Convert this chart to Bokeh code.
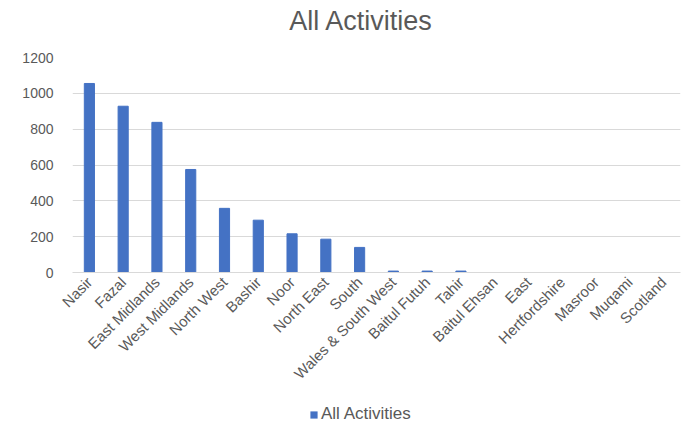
from math import pi
from bokeh.plotting import figure
from bokeh.layouts import column
from bokeh.models import ColumnDataSource, Range1d, Legend, LegendItem, FixedTicker
from bokeh.core.properties import value
from bokeh.embed import file_html
from bokeh.resources import INLINE

categories = ["Nasir", "Fazal", "East Midlands", "West Midlands", "North West", "Bashir",
              "Noor", "North East", "South", "Wales & South West", "Baitul Futuh", "Tahir",
              "Baitul Ehsan", "East", "Hertfordshire", "Masroor", "Muqami", "Scotland"]
values = [1055, 928, 838, 575, 358, 292, 216, 186, 140, 8, 8, 8, 0, 0, 0, 0, 0, 0]
y_ticks = [0, 200, 400, 600, 800, 1000, 1200]
series_name = "All Activities"
chart_title = "All Activities"

FONT = "Liberation Sans"
GRAY = "#595959"
BLUE = "#4472C4"


def strip(h):
    f = figure(x_range=Range1d(0, 1), y_range=Range1d(0, 1), width=686, height=h,
               output_backend="svg", toolbar_location=None,
               min_border=0, min_border_left=0, min_border_right=0,
               min_border_top=0, min_border_bottom=0)
    f.axis.visible = False
    f.grid.visible = False
    f.outline_line_color = None
    return f


# title strip
tt = strip(40)
tt.text(x=[0.475], y=[0.5], text=[chart_title], text_align="center",
        text_baseline="middle", text_font=value(FONT), text_font_size="27px",
        text_color=GRAY)

# main chart
src = ColumnDataSource(dict(cat=categories, val=values))
p = figure(x_range=categories, y_range=Range1d(0, 1200), width=686, height=360,
           output_backend="svg", toolbar_location=None,
           min_border_left=72, min_border_right=6, min_border_top=17,
           min_border_bottom=128)

r = p.vbar(x="cat", top="val", width=0.3, source=src, color=BLUE)

p.outline_line_color = None
p.xgrid.grid_line_color = None
p.ygrid.grid_line_color = "#D9D9D9"
p.ygrid.grid_line_width = 1

p.yaxis.ticker = FixedTicker(ticks=y_ticks)
p.yaxis.axis_line_color = None
p.yaxis.major_tick_line_color = None
p.yaxis.minor_tick_line_color = None
p.yaxis.major_label_text_font = FONT
p.yaxis.major_label_text_font_size = "14px"
p.yaxis.major_label_text_color = GRAY
p.yaxis.major_label_standoff = 13

p.xaxis.axis_line_color = "#D9D9D9"
p.xaxis.major_tick_line_color = None
p.xaxis.minor_tick_line_color = None
p.xaxis.major_label_orientation = pi / 4
p.xaxis.major_label_text_font = FONT
p.xaxis.major_label_text_font_size = "15px"
p.xaxis.major_label_text_color = GRAY
p.xaxis.major_label_standoff = 1

# legend strip below the chart
lg = strip(25)
dummy_src = ColumnDataSource(dict(x=[0.5], top=[0], bottom=[0]))
dummy = lg.vbar(x="x", top="top", bottom="bottom", width=0.01, source=dummy_src,
                fill_color=BLUE, line_color=BLUE, line_alpha=0)
legend = Legend(items=[LegendItem(label=series_name, renderers=[dummy])],
                orientation="horizontal", location=(237, 1),
                label_text_font=FONT, label_text_font_size="17px", label_text_color=GRAY,
                glyph_width=9, glyph_height=9, border_line_color=None,
                background_fill_alpha=0, margin=0, padding=2, label_standoff=3)
lg.add_layout(legend, "center")

layout = column(tt, p, lg, spacing=0)
open("out.html", "w").write(file_html(layout, INLINE))
